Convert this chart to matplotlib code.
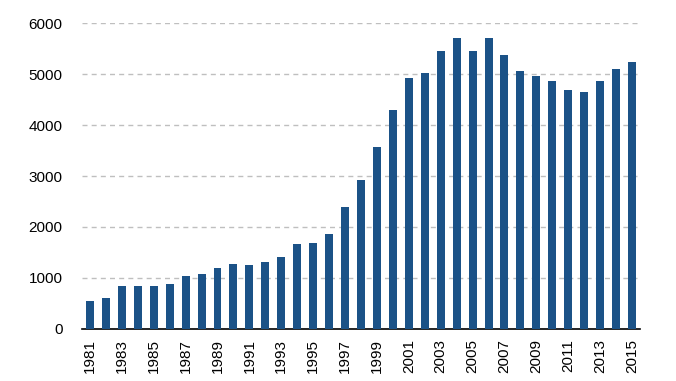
import matplotlib
matplotlib.use('Agg')
import matplotlib.pyplot as plt

# Datos
anios = list(range(1981, 2016))
valores = [550, 614, 843, 843, 843, 882, 1039, 1085, 1203, 1281,
           1248, 1320, 1412, 1673, 1680, 1869, 2386, 2915, 3575, 4301,
           4922, 5020, 5458, 5699, 5444, 5699, 5366, 5052, 4961, 4863,
           4686, 4654, 4869, 5104, 5229]
etiquetas = [str(a) if (a - 1981) % 2 == 0 else '' for a in anios]

plt.rcParams['font.family'] = ['Liberation Sans', 'DejaVu Sans']

fig = plt.figure(figsize=(6.76, 3.81), dpi=100)
ax = fig.add_axes([0.1213, 0.1365, 0.8254, 0.8031])

x = list(range(len(anios)))
ax.bar(x, valores, width=0.5, color='#1B5287', zorder=3)

ax.set_xlim(-0.5, len(anios) - 0.5)
ax.set_ylim(0, 6000)
ax.set_yticks(range(0, 6001, 1000))
ax.set_xticks(x)
ax.set_xticklabels(etiquetas, rotation=90, fontsize=11)
ax.tick_params(axis='y', length=0, pad=14, labelsize=11)
ax.tick_params(axis='x', length=0, pad=7)

# líneas de cuadrícula discontinuas
ax.yaxis.grid(True, linestyle=(0, (3.6, 3)), color='#bfbfbf', lw=1.0, zorder=0)
for s in ['top', 'right', 'left']:
    ax.spines[s].set_visible(False)
ax.spines['bottom'].set_color('black')
ax.spines['bottom'].set_linewidth(1.2)

fig.savefig('out.png', dpi=100, facecolor='white')
